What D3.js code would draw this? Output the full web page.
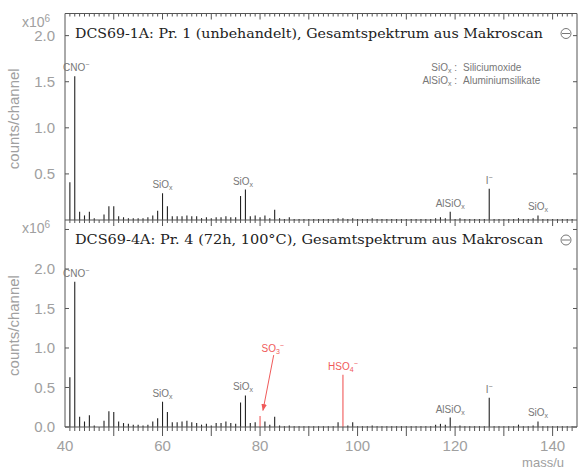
<!DOCTYPE html>
<html>
<head>
<meta charset="utf-8">
<script src="https://cdn.jsdelivr.net/npm/d3@7"></script>
<style>
  body { margin: 0; background: #fff; }
  svg { display: block; }
</style>
</head>
<body>
<div id="chart"></div>
<script>
// mass channels (u) and counts/channel in units of 1e6
const masses = [41,42,43,44,45,46,48,49,50,51,52,53,54,55,56,57,58,59,60,61,62,63,64,65,66,67,68,69,70,71,72,73,74,75,76,77,78,79,80,81,82,83,84,85,86,87,88,89,90,91,92,93,94,95,96,97,98,99,100,101,102,103,104,105,106,107,108,109,110,111,112,113,114,115,116,117,118,119,120,121,122,123,124,125,126,127,128,129,130,131,132,133,134,135,136,137,138,139,140,141,142,143,144]
const countsPr1 = [0.41,1.56,0.09,0.05,0.09,0.02,0.06,0.15,0.15,0.04,0.03,0.02,0.02,0.02,0.02,0.03,0.05,0.10,0.29,0.15,0.04,0.04,0.04,0.05,0.04,0.04,0.02,0.03,0.02,0.03,0.03,0.04,0.03,0.03,0.26,0.33,0.04,0.05,0.03,0.05,0.02,0.11,0.02,0.01,0.03,0.01,0.01,0.01,0.01,0.01,0.01,0.01,0.01,0.01,0.02,0.02,0.01,0.02,0.01,0.01,0.01,0.02,0.01,0.01,0.01,0.01,0.01,0.01,0.01,0.01,0.01,0.01,0.01,0.01,0.02,0.03,0.02,0.09,0.01,0.02,0.01,0.01,0.01,0.01,0.01,0.34,0.01,0.01,0.01,0.01,0.01,0.02,0.01,0.01,0.02,0.05,0.01,0.01,0.01,0.01,0.01,0.01,0.01]
const countsPr4 = [0.63,1.84,0.13,0.07,0.15,0.02,0.08,0.20,0.19,0.07,0.05,0.04,0.03,0.03,0.02,0.03,0.07,0.11,0.32,0.19,0.06,0.06,0.07,0.08,0.06,0.05,0.03,0.04,0.02,0.05,0.05,0.07,0.05,0.04,0.31,0.40,0.05,0.06,0.14,0.07,0.03,0.13,0.02,0.01,0.02,0.01,0.01,0.01,0.01,0.01,0.01,0.01,0.01,0.01,0.06,0.66,0.02,0.06,0.01,0.01,0.01,0.02,0.01,0.01,0.01,0.01,0.01,0.01,0.01,0.01,0.01,0.01,0.01,0.01,0.03,0.04,0.03,0.12,0.01,0.02,0.01,0.01,0.01,0.01,0.01,0.37,0.01,0.01,0.01,0.01,0.01,0.03,0.01,0.01,0.02,0.07,0.01,0.01,0.01,0.01,0.01,0.01,0.01]
const redMassesPr4 = [80, 97]

const titles = [
  "DCS69-1A: Pr. 1 (unbehandelt), Gesamtspektrum aus Makroscan",
  "DCS69-4A: Pr. 4 (72h, 100°C), Gesamtspektrum aus Makroscan"
]
// peak labels: [main, sub, sup, mass]
const labelsPr1 = [["CNO","","−",42.3],["SiO","x","",60],["SiO","x","",76.5],["AlSiO","x","",119],["I","","−",127],["SiO","x","",137]]
const labelsPr4 = [["CNO","","−",42.3],["SiO","x","",60],["SiO","x","",76.5],["HSO","4","−",97],["AlSiO","x","",119],["I","","−",127],["SiO","x","",137]]
const legendKeys = [["SiO","x"],["AlSiO","x"]]
const legendNames = ["Siliciumoxide","Aluminiumsilikate"]

const xTickLabels = [40,60,80,100,120,140]
const yTicksPr1 = [0.5,1.0,1.5,2.0]
const yTicksPr4 = [0.0,0.5,1.0,1.5,2.0,2.5]
const yLabelsPr4 = [0.0,0.5,1.0,1.5,2.0]

const width = 580, height = 470
const left = 65, right = 577
const gray = "#a0a0a0", dark = "#222", frameColor = "#555", red = "#f05a5a"

const svg = d3.select("#chart").append("svg")
  .attr("width", width).attr("height", height)
  .style("font-family", "'Liberation Sans', Arial, sans-serif")

const x = d3.scaleLinear().domain([40, 145]).range([left, right])
const y1 = d3.scaleLinear().domain([0, 2.24]).range([220, 13.5])
const y2 = d3.scaleLinear().domain([0, 2.62]).range([427, 220])

function drawPanel(y, counts, yTicks, yLabels, title, labels, reds, panelTop, panelBottom){
  const g = svg.append("g")

  // spectrum sticks
  g.selectAll(".peak")
    .data(masses.map((m, i) => ({m: m, v: counts[i]})))
    .join("line")
      .attr("class", "peak")
      .attr("x1", d => x(d.m)).attr("x2", d => x(d.m))
      .attr("y1", y(0)).attr("y2", d => y(d.v))
      .attr("stroke", d => reds.includes(d.m) ? red : dark)
      .attr("stroke-width", 1.1)

  // frame
  g.append("line").attr("x1", left).attr("x2", left).attr("y1", panelTop).attr("y2", panelBottom)
    .attr("stroke", frameColor)
  g.append("line").attr("x1", right).attr("x2", right).attr("y1", panelTop).attr("y2", panelBottom)
    .attr("stroke", frameColor)
  g.append("line").attr("x1", left).attr("x2", right).attr("y1", panelTop).attr("y2", panelTop)
    .attr("stroke", frameColor)

  // top edge ticks (inward)
  const minor = d3.range(41, 145)
  g.selectAll(".ttick").data(minor).join("line")
    .attr("x1", d => x(d)).attr("x2", d => x(d))
    .attr("y1", panelTop).attr("y2", d => panelTop + (d % 10 == 0 ? 6 : 3))
    .attr("stroke", frameColor)

  // y ticks left and right
  g.selectAll(".yl").data(yTicks).join("line")
    .attr("x1", left).attr("x2", left + 4)
    .attr("y1", d => y(d)).attr("y2", d => y(d)).attr("stroke", frameColor)
  g.selectAll(".yr").data(yTicks).join("line")
    .attr("x1", right - 4).attr("x2", right)
    .attr("y1", d => y(d)).attr("y2", d => y(d)).attr("stroke", frameColor)
  g.selectAll(".ylab").data(yLabels).join("text")
    .attr("x", 55).attr("y", d => y(d)).attr("dy", "0.36em")
    .attr("text-anchor", "end").attr("fill", gray).attr("font-size", 15)
    .text(d => d.toFixed(1))

  // x10^6
  const exp = g.append("text").attr("x", 22).attr("y", panelTop + 13)
    .attr("fill", gray).attr("font-size", 14)
  exp.append("tspan").text("x10")
  exp.append("tspan").attr("dy", -5).attr("font-size", 10).text("6")

  // title
  g.append("text").attr("x", 75).attr("y", panelTop + 24)
    .attr("font-family", "'DejaVu Serif', 'Liberation Serif', serif")
    .attr("font-size", 13).attr("fill", "#222")
    .attr("textLength", 468).attr("lengthAdjust", "spacingAndGlyphs")
    .text(title)
  g.append("circle").attr("cx", 566).attr("cy", panelTop + 20).attr("r", 5)
    .attr("fill", "none").attr("stroke", "#777")
  g.append("line").attr("x1", 562).attr("x2", 570)
    .attr("y1", panelTop + 20).attr("y2", panelTop + 20).attr("stroke", "#777")

  // y axis title
  g.append("text")
    .attr("transform", `translate(19,${(panelTop + panelBottom) / 2 + 2}) rotate(-90)`)
    .attr("text-anchor", "middle").attr("fill", gray).attr("font-size", 15)
    .text("counts/channel")

  // peak labels
  labels.forEach(l => {
    const near = masses.map((m, i) => ({m: m, v: counts[i]})).filter(d => Math.abs(d.m - l[3]) <= 0.6)
    const top = d3.max(near, d => d.v)
    const isRed = reds.some(r => Math.abs(r - l[3]) < 0.6)
    const t = g.append("text").attr("x", x(l[3])).attr("y", y(top) - 5)
      .attr("text-anchor", "middle").attr("font-size", 10)
      .attr("fill", isRed ? red : "#777")
    t.append("tspan").text(l[0])
    if(l[1]) t.append("tspan").attr("dy", 2).attr("font-size", 7).text(l[1])
    if(l[2]) t.append("tspan").attr("dy", l[1] ? -6 : -4).attr("font-size", 7).text(l[2])
  })
}

drawPanel(y1, countsPr1, yTicksPr1, yTicksPr1, titles[0], labelsPr1, [], 13.5, 220)
drawPanel(y2, countsPr4, yTicksPr4, yLabelsPr4, titles[1], labelsPr4, redMassesPr4, 220, 427)

// baseline of lower panel and its outward ticks
svg.append("line").attr("x1", left).attr("x2", right).attr("y1", y2(0)).attr("y2", y2(0))
  .attr("stroke", frameColor)
svg.selectAll(".btick").data(d3.range(41, 145)).join("line")
  .attr("x1", d => x(d)).attr("x2", d => x(d))
  .attr("y1", y2(0)).attr("y2", d => y2(0) + (d % 10 == 0 ? 9 : 4))
  .attr("stroke", frameColor)
svg.selectAll(".xlab").data(xTickLabels).join("text")
  .attr("x", d => x(d)).attr("y", 451)
  .attr("text-anchor", "middle").attr("fill", gray).attr("font-size", 15)
  .text(d => d)
svg.append("text").attr("x", 564).attr("y", 467).attr("text-anchor", "end")
  .attr("fill", gray).attr("font-size", 13).text("mass/u")

// legend (upper panel)
legendKeys.forEach((k, i) => {
  const ly = 71 + i * 13
  const t = svg.append("text").attr("x", 457).attr("y", ly).attr("text-anchor", "end")
    .attr("font-size", 10).attr("fill", "#777")
  t.append("tspan").text(k[0])
  t.append("tspan").attr("dy", 2).attr("font-size", 7).text(k[1])
  t.append("tspan").attr("dy", -2).text(" :")
  svg.append("text").attr("x", 463).attr("y", ly).attr("font-size", 10).attr("fill", "#777")
    .text(legendNames[i])
})

// SO3- annotation with arrow
svg.append("defs").append("marker").attr("id", "arrow")
  .attr("viewBox", "0 0 10 10").attr("refX", 9).attr("refY", 5)
  .attr("markerWidth", 7).attr("markerHeight", 7).attr("orient", "auto")
  .append("path").attr("d", "M0,1 L10,5 L0,9 Z").attr("fill", red)
const so3 = svg.append("text").attr("x", x(82.6)).attr("y", y2(0.95))
  .attr("text-anchor", "middle").attr("font-size", 10).attr("fill", red)
so3.append("tspan").text("SO")
so3.append("tspan").attr("dy", 2).attr("font-size", 7).text("3")
so3.append("tspan").attr("dy", -6).attr("font-size", 7).text("−")
svg.append("line")
  .attr("x1", x(82.8)).attr("y1", y2(0.91))
  .attr("x2", x(80.6)).attr("y2", y2(0.21))
  .attr("stroke", red).attr("stroke-width", 1)
  .attr("marker-end", "url(#arrow)")
</script>
</body>
</html>
